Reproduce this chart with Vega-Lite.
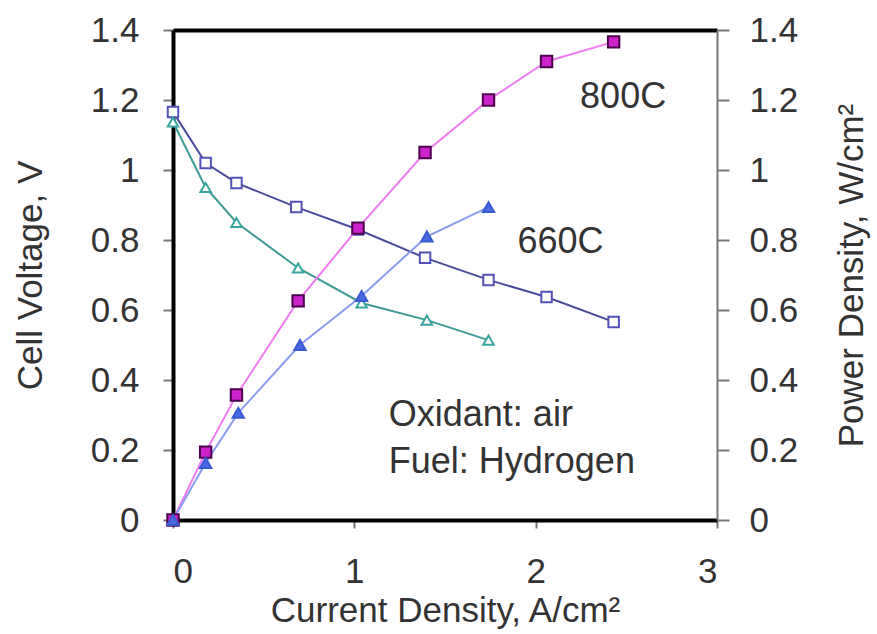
{
  "$schema": "https://vega.github.io/schema/vega-lite/v6.json",
  "autosize": "none",
  "width": 544,
  "height": 490,
  "padding": {"left": 173, "top": 30, "right": 160, "bottom": 114},
  "background": "white",
  "config": {
    "view": {"stroke": null},
    "font": "Liberation Sans",
    "axis": {"grid": false, "labelFont": "Liberation Sans", "titleFont": "Liberation Sans", "labelFontSize": 35, "titleFontSize": 35, "labelColor": "#333333", "titleColor": "#333333", "titleFontWeight": "normal", "tickColor": "#777777", "tickWidth": 2}
  },
  "datasets": {
    "voltage": [
      {"I": 0, "V": 1.166, "series": "800C"},
      {"I": 0.18, "V": 1.02, "series": "800C"},
      {"I": 0.35, "V": 0.963, "series": "800C"},
      {"I": 0.68, "V": 0.894, "series": "800C"},
      {"I": 1.02, "V": 0.83, "series": "800C"},
      {"I": 1.39, "V": 0.749, "series": "800C"},
      {"I": 1.74, "V": 0.686, "series": "800C"},
      {"I": 2.06, "V": 0.637, "series": "800C"},
      {"I": 2.43, "V": 0.566, "series": "800C"},
      {"I": 0, "V": 1.137, "series": "660C"},
      {"I": 0.18, "V": 0.95, "series": "660C"},
      {"I": 0.35, "V": 0.85, "series": "660C"},
      {"I": 0.69, "V": 0.72, "series": "660C"},
      {"I": 1.04, "V": 0.62, "series": "660C"},
      {"I": 1.4, "V": 0.571, "series": "660C"},
      {"I": 1.74, "V": 0.514, "series": "660C"}
    ],
    "power": [
      {"I": 0, "P": 0, "series": "800C"},
      {"I": 0.18, "P": 0.194, "series": "800C"},
      {"I": 0.35, "P": 0.357, "series": "800C"},
      {"I": 0.69, "P": 0.626, "series": "800C"},
      {"I": 1.02, "P": 0.834, "series": "800C"},
      {"I": 1.39, "P": 1.05, "series": "800C"},
      {"I": 1.74, "P": 1.2, "series": "800C"},
      {"I": 2.06, "P": 1.31, "series": "800C"},
      {"I": 2.43, "P": 1.366, "series": "800C"},
      {"I": 0, "P": 0, "series": "660C"},
      {"I": 0.18, "P": 0.163, "series": "660C"},
      {"I": 0.36, "P": 0.306, "series": "660C"},
      {"I": 0.7, "P": 0.5, "series": "660C"},
      {"I": 1.04, "P": 0.64, "series": "660C"},
      {"I": 1.4, "P": 0.81, "series": "660C"},
      {"I": 1.74, "P": 0.894, "series": "660C"}
    ],
    "notes": [
      {"I": 2.245, "y": 1.209, "label": "800C"},
      {"I": 1.9, "y": 0.794, "label": "660C"},
      {"I": 1.19, "y": 0.3, "label": "Oxidant: air"},
      {"I": 1.19, "y": 0.166, "label": "Fuel: Hydrogen"}
    ]
  },
  "resolve": {
    "scale": {"x": "independent", "y": "independent", "color": "independent", "stroke": "independent", "fill": "independent", "shape": "independent"},
    "axis": {"x": "independent", "y": "independent"}
  },
  "layer": [
    {
      "data": {"name": "voltage"},
      "resolve": {"scale": {"color": "independent", "stroke": "independent", "shape": "independent"}},
      "layer": [
        {
          "mark": {"type": "line", "strokeWidth": 2},
          "encoding": {
            "x": {"field": "I", "type": "quantitative", "scale": {"domain": [0, 3]},
              "axis": {"title": "Current Density, A/cm²", "values": [0, 1, 2, 3], "format": "d", "domainColor": "black", "domainWidth": 4, "tickSize": 8, "labelPadding": 26, "titlePadding": 4}},
            "y": {"field": "V", "type": "quantitative", "scale": {"domain": [0, 1.4]},
              "axis": {"title": "Cell Voltage, V", "orient": "left", "values": [0, 0.2, 0.4, 0.6, 0.8, 1, 1.2, 1.4], "format": "~g", "domainColor": "black", "domainWidth": 4, "tickSize": 10, "labelPadding": 24, "titlePadding": 42}},
            "color": {"field": "series", "type": "nominal", "scale": {"domain": ["800C", "660C"], "range": ["#4b4b9c", "#3f9a96"]}, "legend": null}
          }
        },
        {
          "mark": {"type": "point", "fill": "white", "filled": true, "strokeWidth": 2, "opacity": 1, "size": 110},
          "encoding": {
            "x": {"field": "I", "type": "quantitative"},
            "y": {"field": "V", "type": "quantitative"},
            "shape": {"field": "series", "type": "nominal", "scale": {"domain": ["800C", "660C"], "range": ["square", "triangle-up"]}, "legend": null},
            "stroke": {"field": "series", "type": "nominal", "scale": {"domain": ["800C", "660C"], "range": ["#5252b8", "#3aa5a0"]}, "legend": null}
          }
        }
      ]
    },
    {
      "data": {"name": "power"},
      "resolve": {"scale": {"color": "independent", "stroke": "independent", "fill": "independent", "shape": "independent"}},
      "layer": [
        {
          "mark": {"type": "line", "strokeWidth": 2},
          "encoding": {
            "x": {"field": "I", "type": "quantitative", "scale": {"domain": [0, 3]}, "axis": null},
            "y": {"field": "P", "type": "quantitative", "scale": {"domain": [0, 1.4]},
              "axis": {"title": "Power Density, W/cm²", "orient": "right", "values": [0, 0.2, 0.4, 0.6, 0.8, 1, 1.2, 1.4], "format": "~g", "domainColor": "#777777", "domainWidth": 2, "tickSize": 12, "labelPadding": 20, "titleAngle": 270, "titlePadding": 72}},
            "color": {"field": "series", "type": "nominal", "scale": {"domain": ["800C", "660C"], "range": ["#f27af2", "#8a9cf0"]}, "legend": null}
          }
        },
        {
          "mark": {"type": "point", "filled": true, "strokeWidth": 2, "opacity": 1, "size": 130},
          "encoding": {
            "x": {"field": "I", "type": "quantitative"},
            "y": {"field": "P", "type": "quantitative"},
            "shape": {"field": "series", "type": "nominal", "scale": {"domain": ["800C", "660C"], "range": ["square", "triangle-up"]}, "legend": null},
            "fill": {"field": "series", "type": "nominal", "scale": {"domain": ["800C", "660C"], "range": ["#cc22cc", "#4a6ae0"]}, "legend": null},
            "stroke": {"field": "series", "type": "nominal", "scale": {"domain": ["800C", "660C"], "range": ["#4d004d", "#3a5ad0"]}, "legend": null}
          }
        }
      ]
    },
    {
      "data": {"name": "notes"},
      "mark": {"type": "text", "align": "left", "baseline": "middle", "fontSize": 36, "font": "Liberation Sans", "color": "#333333"},
      "encoding": {
        "x": {"field": "I", "type": "quantitative", "scale": {"domain": [0, 3]},
          "axis": {"orient": "top", "title": null, "labels": false, "ticks": false, "domainColor": "black", "domainWidth": 4}},
        "y": {"field": "y", "type": "quantitative", "scale": {"domain": [0, 1.4]}, "axis": null},
        "text": {"field": "label", "type": "nominal"}
      }
    }
  ]
}
